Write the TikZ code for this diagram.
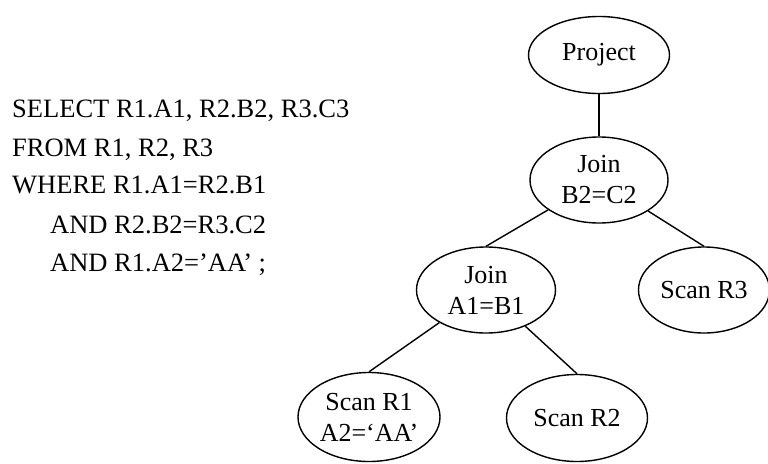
\documentclass[tikz,border=0pt]{standalone}
\usepackage{fontspec}
\setmainfont{Liberation Serif}
\usetikzlibrary{shapes.geometric}
\tikzset{
  planop/.style={draw, ellipse, line width=1.4pt, inner sep=0pt, align=center, font=\fontsize{26}{31}\selectfont},
  planedge/.style={line width=1.4pt},
  sqlline/.style={anchor=base west, inner sep=0pt, font=\fontsize{26.5}{30}\selectfont}
}
\begin{document}
\begin{tikzpicture}[x=1pt,y=-1pt]
    \useasboundingbox (0,0) rectangle (768,463);
    % query
    \node[sqlline] (q1) at (12,117) {SELECT R1.A1, R2.B2, R3.C3};
    \node[sqlline] (q2) at (12,156) {FROM R1, R2, R3};
    \node[sqlline] (q3) at (12,193) {WHERE R1.A1=R2.B1};
    \node[sqlline] (q4) at (50,233) {AND R2.B2=R3.C2};
    \node[sqlline] (q5) at (50,271) {AND R1.A2=’AA’ ;};
    % plan tree
    \node[planop, minimum width=141pt, minimum height=77pt] (proj) at (599,55) {Project};
    \node[planop, minimum width=138pt, minimum height=86pt] (join2) at (599,180) {Join\\B2=C2};
    \node[planop, minimum width=139pt, minimum height=86pt] (join1) at (486,290) {Join\\A1=B1};
    \node[planop, minimum width=131pt, minimum height=86pt] (scan3) at (704,290) {Scan R3};
    \node[planop, minimum width=142pt, minimum height=89pt] (scan1) at (369,417) {Scan R1\\A2=‘AA’};
    \node[planop, minimum width=141pt, minimum height=87pt] (scan2) at (577,418) {Scan R2};
    \draw[planedge] (proj) -- (join2);
    \draw[planedge] (join2) -- (join1.north);
    \draw[planedge] (join2) -- (scan3.north);
    \draw[planedge] (join1) -- (scan1.north);
    \draw[planedge] (join1) -- (scan2.north);
\end{tikzpicture}
\end{document}
